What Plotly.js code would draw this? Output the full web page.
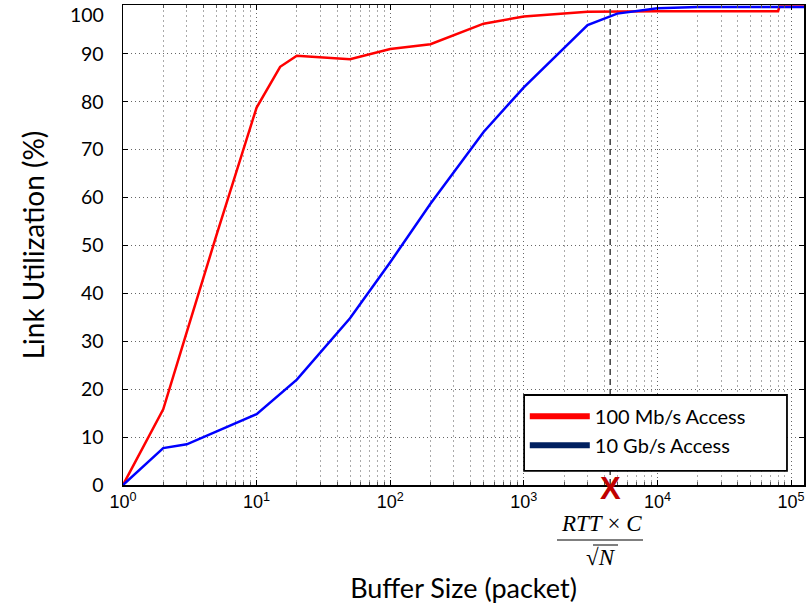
<!DOCTYPE html>
<html>
<head>
<meta charset="utf-8">
<script src="https://cdn.plot.ly/plotly-3.0.1.min.js"></script>
<style>html,body{margin:0;padding:0;background:#fff;}#chart{width:806px;height:605px;}</style>
</head>
<body>
<div id="chart"></div>
<script>
// Data
const bufRed = [1, 2, 3, 5, 10, 15, 20, 50, 100, 200, 500, 1000, 3000, 10000, 80000, 82000, 130000];
const utilRed = [0, 15.8, 31.9, 52.1, 78.8, 87.3, 89.6, 88.9, 91.0, 92.0, 96.3, 97.8, 98.8, 98.9, 98.9, 99.9, 99.9];
const bufBlue = [1, 2, 3, 10, 20, 50, 100, 200, 500, 1000, 3000, 5000, 10000, 20000, 130000];
const utilBlue = [0, 7.7, 8.5, 14.8, 22.0, 34.8, 46.5, 58.7, 73.7, 83.0, 96.0, 98.4, 99.5, 99.8, 99.8];
const seriesNames = ['100 Mb/s Access', '10 Gb/s Access'];
const markerX = 4430;   // RTT x C / sqrt(N)
const yTicks = [0, 10, 20, 30, 40, 50, 60, 70, 80, 90, 100];
const yTickText = ['0', '10', '20', '30', '40', '50', '60', '70', '80', '90', ''];
const yTopLabel = '100';
const xMajor = [1, 10, 100, 1000, 10000, 100000];
const xMajorText = ['10<sup>0</sup>', '10<sup>1</sup>', '10<sup>2</sup>', '10<sup>3</sup>', '10<sup>4</sup>', '10<sup>5</sup>'];
const minorDigits = [2, 3, 4, 5, 6, 7, 8, 9];

const xMinor = [];
xMajor.forEach(d => minorDigits.forEach(m => xMinor.push(d * m)));

const traces = [
  {x: bufRed, y: utilRed, type: 'scatter', mode: 'lines', line: {color: '#ff0000', width: 2.5}, showlegend: false, hoverinfo: 'skip'},
  {x: bufBlue, y: utilBlue, type: 'scatter', mode: 'lines', line: {color: '#0000ff', width: 2.5}, showlegend: false, hoverinfo: 'skip'},
  {x: [markerX, markerX], y: [0, 100.2], type: 'scatter', mode: 'lines', line: {color: '#404040', width: 1.5, dash: '6px,4px'}, showlegend: false, hoverinfo: 'skip'},
  {x: [null], y: [null], type: 'scatter', mode: 'lines', name: seriesNames[0], line: {color: '#ff0000', width: 6}},
  {x: [null], y: [null], type: 'scatter', mode: 'lines', name: seriesNames[1], line: {color: '#002060', width: 6}}
];

const layout = {
  width: 806, height: 605,
  margin: {l: 123, r: 2, t: 5, b: 120},
  paper_bgcolor: '#fff', plot_bgcolor: '#fff',
  font: {family: 'Lato, "Open Sans", sans-serif', color: '#000'},
  xaxis: {
    type: 'log', range: [0, 5.097],
    tickvals: xMajor, ticktext: xMajorText,
    tickfont: {family: '"Liberation Sans", Arial, sans-serif', size: 18},
    ticks: 'inside', ticklen: 5, tickcolor: '#000',
    showline: true, linecolor: '#000', linewidth: 1.5, mirror: 'allticks',
    showgrid: true, gridcolor: '#666', griddash: '1px,3px', gridwidth: 1,
    minor: {tickvals: xMinor, ticks: 'inside', ticklen: 3, tickcolor: '#555', showgrid: true, gridcolor: '#aaa', griddash: '2px,3px', gridwidth: 1},
    zeroline: false,
    title: {text: 'Buffer Size (packet)', font: {family: 'Lato, sans-serif', size: 27}, standoff: 68},
    automargin: false
  },
  yaxis: {
    range: [0, 100.2], tickvals: yTicks, ticktext: yTickText,
    tickfont: {family: 'Lato, sans-serif', size: 19.5},
    ticks: 'inside', ticklen: 5, tickcolor: '#000', ticklabelstandoff: 14,
    showline: true, linecolor: '#000', linewidth: 1.5, mirror: 'allticks',
    showgrid: true, gridcolor: '#666', griddash: '1px,3px', gridwidth: 1,
    zeroline: false,
    title: {text: 'Link Utilization (%)', font: {family: 'Lato, sans-serif', size: 28}, standoff: 28},
    automargin: false
  },
  legend: {
    x: 0.59, y: 0.184, xanchor: 'left', yanchor: 'top',
    bgcolor: 'rgba(0,0,0,0)', borderwidth: 0,
    font: {family: 'Lato, sans-serif', size: 20},
    itemwidth: 60, tracegroupgap: 0
  },
  shapes: [
    {type: 'rect', xref: 'paper', yref: 'paper', x0: 0.589, x1: 0.975, y0: 0.0295, y1: 0.1875, fillcolor: '#fff', line: {color: '#000', width: 1.8}, layer: 'above'},
    {type: 'line', xref: 'paper', yref: 'paper', x0: (557 - 123) / 681, x1: (643 - 123) / 681, y0: -(540 - 485) / 480, y1: -(540 - 485) / 480, line: {color: '#000', width: 1.2}},
    {type: 'line', xref: 'paper', yref: 'paper', x0: (593 - 123) / 681, x1: (618 - 123) / 681, y0: -(545 - 485) / 480, y1: -(545 - 485) / 480, line: {color: '#000', width: 1}}
  ],
  annotations: [
    {x: 0, xref: 'paper', xanchor: 'right', xshift: -17, y: 1, yref: 'paper', yanchor: 'top', yshift: 4, text: yTopLabel, showarrow: false,
     font: {family: 'Lato, sans-serif', size: 19.5, color: '#000'}},
    {x: Math.log10(markerX), y: 0, xref: 'x', yref: 'y', text: '<b>X</b>', showarrow: false, yshift: -3,
     font: {family: '"Liberation Sans", Arial, sans-serif', size: 31, color: '#c00000'}},
    {x: Math.log10(markerX) - 0.066, xref: 'x', yref: 'paper', y: -(523 - 485) / 480, yanchor: 'middle', text: '<i>RTT</i> × <i>C</i>', showarrow: false,
     font: {family: '"Liberation Serif", "Times New Roman", serif', size: 23, color: '#000'}},
    {x: Math.log10(markerX) - 0.066, xref: 'x', yref: 'paper', y: -(557 - 485) / 480, yanchor: 'middle', text: '√<i>N</i>', showarrow: false,
     font: {family: '"Liberation Serif", "Times New Roman", serif', size: 23, color: '#000'}}
  ]
};

Plotly.newPlot('chart', traces, layout, {displayModeBar: false, staticPlot: true});
</script>
</body>
</html>
